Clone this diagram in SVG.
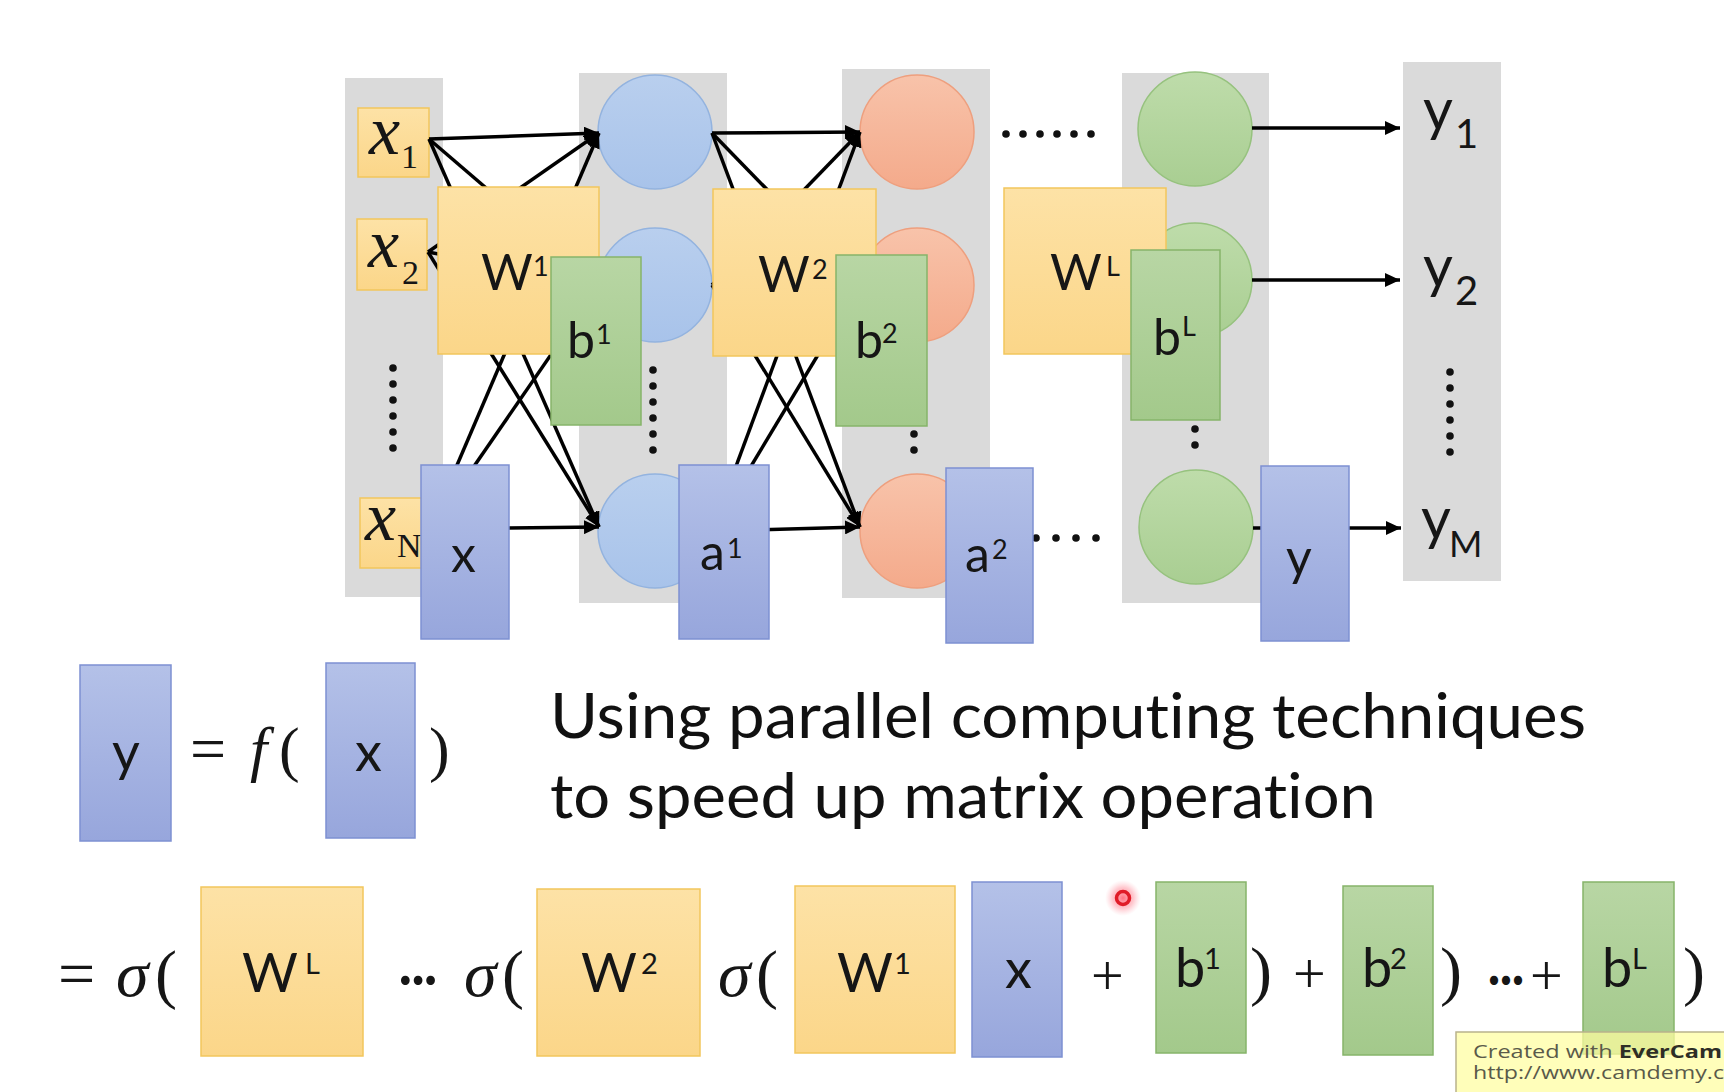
<svg xmlns="http://www.w3.org/2000/svg" width="1724" height="1092" viewBox="0 0 1724 1092">
<defs>
<style>
.col{fill:#dadada}
.ybox{fill:url(#gY);stroke:#f2c65c;stroke-width:1.5}
.gbox{fill:url(#gG);stroke:#86b46a;stroke-width:1.5}
.bbox{fill:url(#gB);stroke:#7d90d2;stroke-width:1.5}
.cb{fill:url(#gCB);stroke:#93b3df;stroke-width:1.5}
.co{fill:url(#gCO);stroke:#ee9f7e;stroke-width:1.5}
.cg{fill:url(#gCG);stroke:#96c27e;stroke-width:1.5}
.ln{stroke:#000;stroke-width:3.5;fill:none}
.ar{marker-end:url(#arr)}
.dot{fill:#111}
.lab{font-family:Lato,'Open Sans',sans-serif;fill:#161616}
.u{font-size:50px}
.us{font-size:27px}
.l{font-size:54px}
.ls{font-size:29px}
.ser{font-family:'Liberation Serif',serif;fill:#161616}
.xi{font-family:'Liberation Serif',serif;font-style:italic;font-size:70px;fill:#161616}
.xs{font-family:'Liberation Serif',serif;font-size:34px;fill:#161616}
.big{font-family:Lato,'Open Sans',sans-serif;font-size:62px;fill:#111;font-variant-ligatures:none;font-feature-settings:"liga" 0}
.dd{font-family:Lato,'Open Sans',sans-serif;font-size:50px;fill:#161616;font-weight:bold}
.wm{font-family:'Open Sans','Noto Sans',sans-serif;font-size:18px;fill:#5a5a4a}
</style>
<linearGradient id="gY" x1="0" y1="0" x2="0" y2="1"><stop offset="0" stop-color="#fde2a6"/><stop offset="1" stop-color="#fbd689"/></linearGradient>
<linearGradient id="gG" x1="0" y1="0" x2="0" y2="1"><stop offset="0" stop-color="#b8d6a4"/><stop offset="1" stop-color="#a3c98b"/></linearGradient>
<linearGradient id="gB" x1="0" y1="0" x2="0" y2="1"><stop offset="0" stop-color="#b4c1e8"/><stop offset="1" stop-color="#97a6dc"/></linearGradient>
<linearGradient id="gCB" x1="0" y1="0" x2="0" y2="1"><stop offset="0" stop-color="#b9cfee"/><stop offset="1" stop-color="#a8c3ea"/></linearGradient>
<linearGradient id="gCO" x1="0" y1="0" x2="0" y2="1"><stop offset="0" stop-color="#f8c3aa"/><stop offset="1" stop-color="#f4aa8b"/></linearGradient>
<linearGradient id="gCG" x1="0" y1="0" x2="0" y2="1"><stop offset="0" stop-color="#bedcaa"/><stop offset="1" stop-color="#a9ce92"/></linearGradient>
<radialGradient id="glow"><stop offset="0" stop-color="#ff5a6c" stop-opacity="0.85"/><stop offset="0.6" stop-color="#ff8a98" stop-opacity="0.45"/><stop offset="1" stop-color="#ffb0ba" stop-opacity="0"/></radialGradient>
<marker id="arr" markerUnits="userSpaceOnUse" markerWidth="16" markerHeight="14" refX="15" refY="7" orient="auto">
<path d="M0,0 L15,7 L0,14 z" fill="#000"/>
</marker>
</defs>
<rect width="1724" height="1092" fill="#ffffff"/>

<g id="columns">
<rect class="col" x="345" y="78" width="98" height="519"/>
<rect class="col" x="579" y="73" width="148" height="530"/>
<rect class="col" x="842" y="69" width="148" height="529"/>
<rect class="col" x="1122" y="73" width="147" height="530"/>
<rect class="col" x="1403" y="62" width="98" height="519"/>
</g>

<g id="input-nodes">
<g id="x1"><rect class="ybox" x="358" y="108" width="71" height="69"/><text class="xi" x="369" y="154">x</text><text class="xs" x="401" y="168">1</text></g>
<g id="x2"><rect class="ybox" x="357" y="219" width="70" height="71"/><text class="xi" x="368" y="267">x</text><text class="xs" x="402" y="284">2</text></g>
<g id="xN"><rect class="ybox" x="360" y="498" width="70" height="70"/><text class="xi" x="365" y="540">x</text><text class="xs" x="397" y="557">N</text></g>
</g>

<g id="neurons">
<circle id="h1a" class="cb" cx="655" cy="132" r="57"/>
<circle id="h1b" class="cb" cx="655" cy="285" r="57"/>
<circle id="h1c" class="cb" cx="655" cy="531" r="57"/>
<circle id="h2a" class="co" cx="917" cy="132" r="57"/>
<circle id="h2b" class="co" cx="917" cy="285" r="57"/>
<circle id="h2c" class="co" cx="917" cy="531" r="57"/>
<circle id="hLa" class="cg" cx="1195" cy="129" r="57"/>
<circle id="hLb" class="cg" cx="1195" cy="280" r="57"/>
<circle id="hLc" class="cg" cx="1196" cy="527" r="57"/>
</g>

<g id="dots">
<circle class="dot" cx="393" cy="368" r="3.8"/><circle class="dot" cx="393" cy="384" r="3.8"/><circle class="dot" cx="393" cy="400" r="3.8"/><circle class="dot" cx="393" cy="416" r="3.8"/><circle class="dot" cx="393" cy="432" r="3.8"/><circle class="dot" cx="393" cy="448" r="3.8"/>
<circle class="dot" cx="653" cy="370" r="3.8"/><circle class="dot" cx="653" cy="386" r="3.8"/><circle class="dot" cx="653" cy="402" r="3.8"/><circle class="dot" cx="653" cy="418" r="3.8"/><circle class="dot" cx="653" cy="434" r="3.8"/><circle class="dot" cx="653" cy="450" r="3.8"/>
<circle class="dot" cx="1450" cy="372" r="3.8"/><circle class="dot" cx="1450" cy="388" r="3.8"/><circle class="dot" cx="1450" cy="404" r="3.8"/><circle class="dot" cx="1450" cy="420" r="3.8"/><circle class="dot" cx="1450" cy="436" r="3.8"/><circle class="dot" cx="1450" cy="452" r="3.8"/>
<circle class="dot" cx="914" cy="434" r="3.8"/><circle class="dot" cx="914" cy="450" r="3.8"/>
<circle class="dot" cx="1195" cy="429" r="3.8"/><circle class="dot" cx="1195" cy="445" r="3.8"/>
<circle class="dot" cx="1006" cy="134" r="3.8"/><circle class="dot" cx="1023" cy="134" r="3.8"/><circle class="dot" cx="1040" cy="134" r="3.8"/><circle class="dot" cx="1057" cy="134" r="3.8"/><circle class="dot" cx="1074" cy="134" r="3.8"/><circle class="dot" cx="1091" cy="134" r="3.8"/>
<circle class="dot" cx="1036" cy="538" r="3.8"/><circle class="dot" cx="1056" cy="538" r="3.8"/><circle class="dot" cx="1076" cy="538" r="3.8"/><circle class="dot" cx="1096" cy="538" r="3.8"/>
</g>

<g id="connectors">
<line class="ln ar" x1="429" y1="139" x2="599" y2="133"/>
<line class="ln ar" x1="428" y1="252" x2="599" y2="133"/>
<line class="ln ar" x1="428" y1="533" x2="599" y2="133"/>
<line class="ln" x1="429" y1="139" x2="599" y2="285"/>
<line class="ln" x1="428" y1="252" x2="599" y2="285"/>
<line class="ln" x1="428" y1="533" x2="599" y2="285"/>
<line class="ln ar" x1="429" y1="139" x2="599" y2="527"/>
<line class="ln ar" x1="428" y1="252" x2="599" y2="527"/>
<line class="ln ar" x1="428" y1="529" x2="599" y2="527"/>
<line class="ln ar" x1="712" y1="133" x2="860" y2="132"/>
<line class="ln ar" x1="712" y1="285" x2="860" y2="132"/>
<line class="ln ar" x1="712" y1="531" x2="860" y2="132"/>
<line class="ln" x1="712" y1="133" x2="860" y2="285"/>
<line class="ln" x1="712" y1="285" x2="860" y2="285"/>
<line class="ln" x1="712" y1="531" x2="860" y2="285"/>
<line class="ln ar" x1="712" y1="133" x2="860" y2="527"/>
<line class="ln ar" x1="712" y1="285" x2="860" y2="527"/>
<line class="ln ar" x1="712" y1="531" x2="860" y2="527"/>
<line class="ln ar" x1="1252" y1="128" x2="1400" y2="128"/>
<line class="ln ar" x1="1252" y1="280" x2="1400" y2="280"/>
<line class="ln ar" x1="1253" y1="528" x2="1401" y2="528"/>
</g>

<g id="overlays">
<g id="W1"><rect class="ybox" x="438" y="187" width="161" height="167"/><text class="lab u" x="481" y="290">W<tspan class="us" x="533" y="276">1</tspan></text></g>
<g id="b1"><rect class="gbox" x="551" y="257" width="90" height="168"/><text class="lab u" x="567" y="358">b<tspan class="us" x="596" y="344">1</tspan></text></g>
<g id="xvec"><rect class="bbox" x="421" y="465" width="88" height="174"/><text class="lab u" x="451" y="572">x</text></g>
<g id="a1"><rect class="bbox" x="679" y="465" width="90" height="174"/><text class="lab u" x="700" y="570">a<tspan class="us" x="727" y="558">1</tspan></text></g>
<g id="W2"><rect class="ybox" x="713" y="189" width="163" height="167"/><text class="lab u" x="758" y="292">W<tspan class="us" x="812" y="279">2</tspan></text></g>
<g id="b2"><rect class="gbox" x="836" y="255" width="91" height="171"/><text class="lab u" x="855" y="358">b<tspan class="us" x="882" y="343">2</tspan></text></g>
<g id="a2"><rect class="bbox" x="946" y="468" width="87" height="175"/><text class="lab u" x="965" y="572">a<tspan class="us" x="992" y="559">2</tspan></text></g>
<g id="WL"><rect class="ybox" x="1004" y="188" width="162" height="166"/><text class="lab u" x="1050" y="290">W<tspan class="us" x="1106" y="276">L</tspan></text></g>
<g id="bL"><rect class="gbox" x="1131" y="250" width="89" height="170"/><text class="lab u" x="1153" y="355">b<tspan class="us" x="1182" y="336">L</tspan></text></g>
<g id="yvec"><rect class="bbox" x="1261" y="466" width="88" height="175"/><text class="lab u" x="1286" y="575">y</text></g>
</g>

<g id="outputs">
<g id="y1"><text class="lab" font-size="58" x="1423" y="130">y<tspan font-size="40" x="1455" y="148">1</tspan></text></g>
<g id="y2"><text class="lab" font-size="58" x="1423" y="287">y<tspan font-size="40" x="1455" y="305">2</tspan></text></g>
<g id="yM"><text class="lab" font-size="58" x="1421" y="539">y<tspan font-size="36" x="1449" y="557">M</tspan></text></g>
</g>

<g id="eq1">
<rect class="bbox" x="80" y="665" width="91" height="176"/>
<text class="lab l" x="112" y="771">y</text>
<text class="ser" font-size="64" x="190" y="770">=</text>
<text class="ser" font-size="62" y="770"><tspan x="250" font-style="italic">f</tspan><tspan x="279">(</tspan></text>
<rect class="bbox" x="326" y="663" width="89" height="175"/>
<text class="lab l" x="355" y="771">x</text>
<text class="ser" font-size="62" x="429" y="770">)</text>
</g>

<g id="caption">
<text class="big" x="550" y="738" textLength="1036" lengthAdjust="spacingAndGlyphs">Using parallel computing techniques</text>
<text class="big" x="550" y="818" textLength="826" lengthAdjust="spacingAndGlyphs">to speed up matrix operation</text>
</g>

<g id="eq2">
<text class="ser" font-size="66" y="996"><tspan x="58">=</tspan><tspan x="116" font-style="italic">σ</tspan><tspan x="155">(</tspan></text>
<rect class="ybox" x="201" y="887" width="162" height="169"/>
<text class="lab l" x="242" y="992">W<tspan class="ls" x="305" y="974">L</tspan></text>
<text class="dd" x="399" y="995" textLength="38" lengthAdjust="spacingAndGlyphs">···</text>
<text class="ser" font-size="66" y="996"><tspan x="464" font-style="italic">σ</tspan><tspan x="502">(</tspan></text>
<rect class="ybox" x="537" y="889" width="163" height="167"/>
<text class="lab l" x="581" y="992">W<tspan class="ls" x="641" y="974">2</tspan></text>
<text class="ser" font-size="66" y="996"><tspan x="718" font-style="italic">σ</tspan><tspan x="756">(</tspan></text>
<rect class="ybox" x="795" y="886" width="160" height="167"/>
<text class="lab l" x="837" y="992">W<tspan class="ls" x="894" y="974">1</tspan></text>
<rect class="bbox" x="972" y="882" width="90" height="175"/>
<text class="lab l" x="1005" y="988">x</text>
<text class="ser" font-size="58" x="1091" y="995">+</text>
<rect class="gbox" x="1156" y="882" width="90" height="171"/>
<text class="lab l" x="1175" y="987">b<tspan class="ls" x="1204" y="969">1</tspan></text>
<text class="ser" font-size="66" y="993"><tspan x="1250">)</tspan><tspan x="1293" font-size="58">+</tspan></text>
<rect class="gbox" x="1343" y="886" width="90" height="169"/>
<text class="lab l" x="1362" y="987">b<tspan class="ls" x="1390" y="969">2</tspan></text>
<text class="ser" font-size="66" x="1440" y="993">)</text>
<text class="dd" x="1488" y="995" textLength="36" lengthAdjust="spacingAndGlyphs">···</text>
<text class="ser" font-size="58" x="1530" y="995">+</text>
<rect class="gbox" x="1583" y="882" width="91" height="172"/>
<text class="lab l" x="1602" y="987">b<tspan class="ls" x="1632" y="969">L</tspan></text>
<text class="ser" font-size="66" x="1683" y="993">)</text>
</g>

<g id="cursor">
<circle cx="1123" cy="898" r="18" fill="url(#glow)"/>
<circle cx="1123" cy="898" r="6.5" fill="none" stroke="#e01c28" stroke-width="3.5"/>
</g>

<g id="watermark">
<rect x="1456" y="1032" width="280" height="70" fill="#fffda0" fill-opacity="0.72" stroke="#b9b38c" stroke-width="1.5"/>
<text class="wm" x="1473" y="1058" textLength="249" lengthAdjust="spacingAndGlyphs">Created with <tspan font-weight="bold" fill="#2e2e26">EverCam</tspan></text>
<text class="wm" x="1473" y="1079" textLength="251" lengthAdjust="spacingAndGlyphs">http://www.camdemy.c</text>
</g>
</svg>
